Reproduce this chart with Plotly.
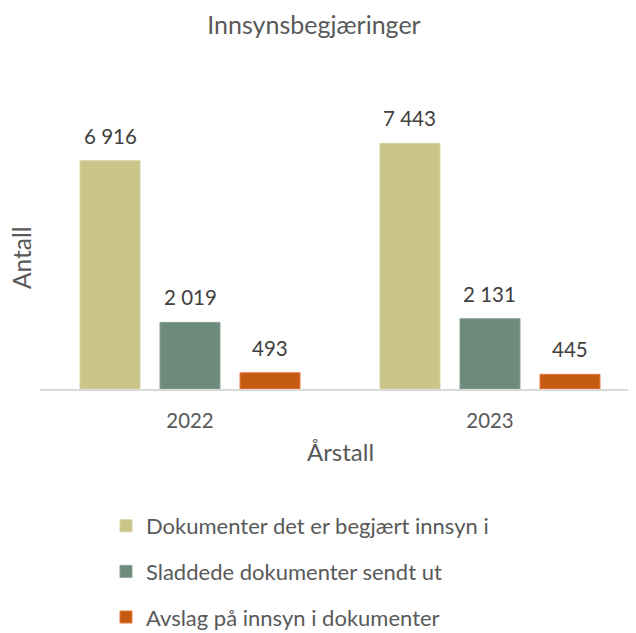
import plotly.graph_objects as go

years = ["2022", "2023"]
series_names = [
    "Dokumenter det er begjært innsyn i",
    "Sladdede dokumenter sendt ut",
    "Avslag på innsyn i dokumenter",
]
begjart = [6916, 7443]
sladdede = [2019, 2131]
avslag = [493, 445]
series_values = [begjart, sladdede, avslag]

colors = ["#C9C487", "#6E8A7A", "#C55A11"]
edge_colors = ["#D6D29E", "#8AA294", "#E57A45"]
FONT = "Lato"

W, H = 628, 625          # page has an 8px body margin
L, T, B = 32, 51, 244
PW, PH = W - L, H - T - B

fig = go.Figure()
for i, (name, vals) in enumerate(zip(series_names, series_values)):
    fig.add_trace(go.Bar(
        x=years, y=vals, name=name,
        marker=dict(color=colors[i], line=dict(color=edge_colors[i], width=1)),
        legendgroup=f"g{i}",
    ))

shifts = [-80, 0, 80]
def fmt(v):
    return f"{v:,}".replace(",", " ")
for i, vals in enumerate(series_values):
    for j, v in enumerate(vals):
        fig.add_annotation(
            x=j, y=v, xref="x", yref="y", text=fmt(v), showarrow=False,
            xshift=shifts[i], yshift=11, yanchor="bottom", xanchor="center",
            font=dict(family=FONT, size=20.5, color="#404040"),
        )

fig.add_annotation(text="Antall", xref="paper", yref="paper",
                   x=(13 - L) / PW, y=(381 - 250) / PH, textangle=-90,
                   showarrow=False, xanchor="center", yanchor="middle",
                   font=dict(family=FONT, size=24.5, color="#595959"))
fig.add_annotation(text="Årstall", xref="paper", yref="paper",
                   x=(332 - L) / PW, y=(381 - 443) / PH,
                   showarrow=False, xanchor="center", yanchor="middle",
                   font=dict(family=FONT, size=24, color="#595959"))

fig.update_layout(
    width=W, height=H,
    margin=dict(l=L, r=0, t=T, b=B, autoexpand=False),
    paper_bgcolor="white", plot_bgcolor="white",
    title=dict(text="Innsynsbegjæringer", xref="container", x=306 / W,
               yref="container", y=1 - 17 / H,
               yanchor="middle", xanchor="center",
               font=dict(family=FONT, size=25, color="#595959")),
    barmode="group", bargap=0.2, bargroupgap=0.25,
    showlegend=True,
    legend=dict(orientation="v", x=(98 - L) / PW, xanchor="left",
                y=(381 - 497) / PH, yanchor="top",
                font=dict(family=FONT, size=22, color="#595959"),
                tracegroupgap=14, traceorder="grouped",
                bgcolor="rgba(0,0,0,0)"),
    xaxis=dict(type="category", range=[-0.5, 1.4867], showline=True,
               linecolor="#D9D9D9", linewidth=2, ticks="", showgrid=False,
               fixedrange=True, ticklabelstandoff=13,
               tickfont=dict(family=FONT, size=20.4, color="#595959")),
    yaxis=dict(range=[0, 10000], showgrid=False, showticklabels=False,
               zeroline=False, showline=False, fixedrange=True),
)

fig.write_html("out.html")
